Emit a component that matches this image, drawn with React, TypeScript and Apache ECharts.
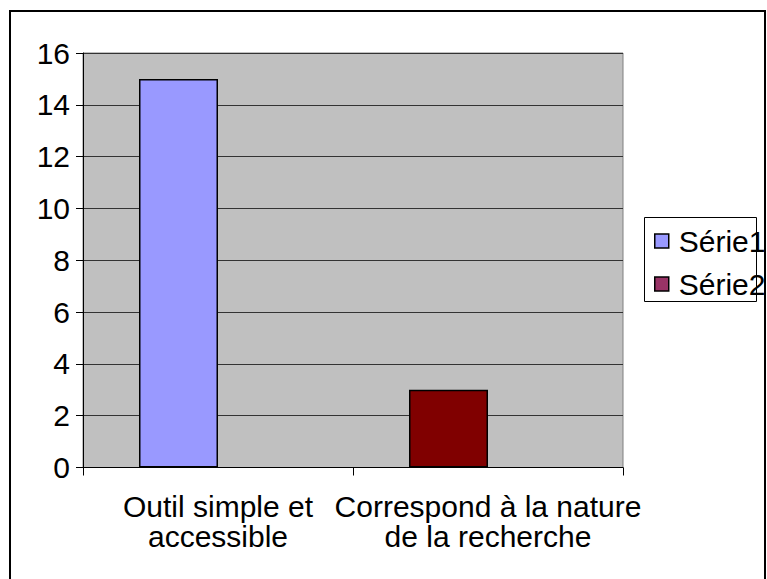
import React, { useEffect, useRef } from "react";
import * as echarts from "echarts";

const categories = ["Outil simple et\naccessible", "Correspond à la nature\nde la recherche"];
const series1Name = "Série1";
const series2Name = "Série2";
const series1Values: (number | null)[] = [15, 3];
const series2Values: (number | null)[] = [null, null];
const series1Color = "#9999FF";
const series1PointColors = ["#9999FF", "#800000"];
const series2Color = "#993366";

const FONT = "'Liberation Sans', Arial, sans-serif";

export default function App() {
  const ref = useRef<HTMLDivElement>(null);
  useEffect(() => {
    if (!ref.current) return;
    const chart = echarts.init(ref.current, undefined, { renderer: "svg" });
    chart.setOption({
      animation: false,
      backgroundColor: "#FFFFFF",
      grid: {
        left: 83,
        top: 53,
        right: 144,
        bottom: 111.5,
        show: true,
        backgroundColor: "#C0C0C0",
        borderColor: "#808080",
        borderWidth: 1,
      },
      xAxis: {
        type: "category",
        data: categories,
        axisLine: { show: true, lineStyle: { color: "#000", width: 1 } },
        axisTick: { show: true, length: 8, alignWithLabel: false, lineStyle: { color: "#000" } },
        axisLabel: {
          color: "#000",
          fontFamily: FONT,
          fontSize: 30,
          lineHeight: 30,
          margin: 24,
          interval: 0,
        },
        splitLine: { show: false },
      },
      yAxis: {
        type: "value",
        min: 0,
        max: 16,
        interval: 2,
        axisLine: { show: true, lineStyle: { color: "#000", width: 1 } },
        axisTick: { show: true, length: 7, lineStyle: { color: "#000" } },
        axisLabel: { color: "#000", fontFamily: FONT, fontSize: 30, margin: 13 },
        splitLine: { show: true, lineStyle: { color: "#333", width: 1 } },
      },
      legend: {
        orient: "vertical",
        left: 644,
        top: 217,
        padding: [9, 0, 9, 10],
        itemWidth: 14,
        itemHeight: 14,
        itemGap: 13,
        icon: "rect",
        backgroundColor: "transparent",
        borderWidth: 0,
        textStyle: { color: "#000", fontFamily: FONT, fontSize: 30, lineHeight: 28, padding: [0, 0, 0, 5] },
        itemStyle: { borderColor: "#000", borderWidth: 1.5 },
        data: [
          { name: series1Name, itemStyle: { color: series1Color } },
          { name: series2Name, itemStyle: { color: series2Color } },
        ],
      },
      graphic: [
        {
          type: "rect",
          z: -1,
          shape: { x: 644.5, y: 217.5, width: 112, height: 84 },
          style: { fill: "#FFFFFF", stroke: "#000", lineWidth: 1 },
        },
        {
          type: "rect",
          z: 100,
          shape: { x: 10, y: 11, width: 755, height: 640 },
          style: { fill: "none", stroke: "#000", lineWidth: 2 },
        },
      ],
      series: [
        {
          name: series1Name,
          type: "bar",
          barWidth: 79,
          barGap: "0%",
          itemStyle: { color: series1Color, borderColor: "#000", borderWidth: 1.5 },
          data: series1Values.map((v, i) => ({
            value: v,
            itemStyle: { color: series1PointColors[i] },
          })),
        },
        {
          name: series2Name,
          type: "bar",
          barWidth: 79,
          barGap: "0%",
          itemStyle: { color: series2Color, borderColor: "#000", borderWidth: 1.5 },
          data: series2Values,
        },
      ],
    });
    return () => chart.dispose();
  }, []);
  return (
    <div
      ref={ref}
      style={{ position: "fixed", left: 0, top: 0, width: 767, height: 579, background: "#fff" }}
    />
  );
}
